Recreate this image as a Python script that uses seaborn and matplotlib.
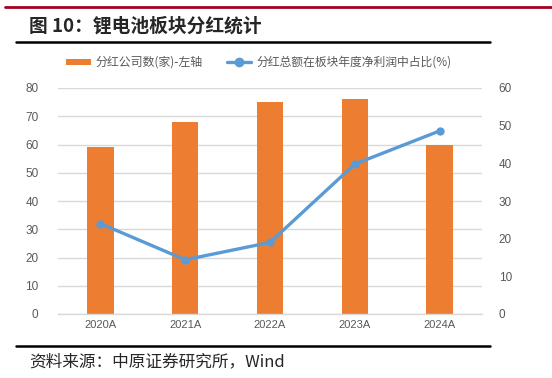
import matplotlib
matplotlib.use("Agg")
import matplotlib.pyplot as plt
import seaborn as sns
import pandas as pd
from matplotlib.lines import Line2D
from matplotlib.patches import Rectangle

years = ["2020A", "2021A", "2022A", "2023A", "2024A"]
company_counts = [59, 68, 75, 76, 60]
dividend_share = [24.0, 14.4, 19.0, 39.8, 48.6]
left_ticks = [0, 10, 20, 30, 40, 50, 60, 70, 80]
right_ticks = [0, 10, 20, 30, 40, 50, 60]
bar_label = "分红公司数(家)-左轴"
line_label = "分红总额在板块年度净利润中占比(%)"
title = "图 10：锂电池板块分红统计"
source = "资料来源：中原证券研究所，Wind"

sns.set_theme(style="white")
plt.rcParams["font.family"] = ["Noto Sans CJK SC", "DejaVu Sans"]

ORANGE = "#ED7D31"
BLUE = "#5B9BD5"
GRAY = "#595959"
GRID = "#D9D9D9"

W, H = 552, 378
fig = plt.figure(figsize=(W / 100, H / 100), dpi=100)
ax = fig.add_axes([58 / W, (H - 314) / H, (482 - 58) / W, (314 - 88) / H])

df = pd.DataFrame({"year": years, "count": company_counts, "share": dividend_share})
sns.barplot(data=df, x="year", y="count", color=ORANGE, width=0.31, ax=ax,
            saturation=1, edgecolor="none")
ax.set_ylim(0, 80)
ax.set_xlim(-0.5, 4.5)
ax.set_yticks(left_ticks)
ax.yaxis.grid(True, color=GRID, linewidth=1)
ax.set_axisbelow(True)
for s in ["top", "right", "left"]:
    ax.spines[s].set_visible(False)
ax.spines["bottom"].set_color(GRID)
ax.spines["bottom"].set_linewidth(1)
ax.set_xlabel("")
ax.set_ylabel("")
ax.tick_params(axis="y", length=0, labelsize=8.5, labelcolor=GRAY, pad=14)
ax.tick_params(axis="x", length=0, labelsize=8, labelcolor=GRAY, pad=4)
for lbl in ax.get_yticklabels() + ax.get_xticklabels():
    lbl.set_family(["Liberation Sans", "DejaVu Sans"])

ax2 = ax.twinx()
sns.lineplot(x=list(range(len(years))), y=dividend_share, ax=ax2, color=BLUE,
             linewidth=2.4, marker="o", markersize=6, markeredgewidth=0)
ax2.set_ylim(0, 60)
ax2.set_yticks(right_ticks)
ax2.grid(False)
for s in ["top", "right", "left", "bottom"]:
    ax2.spines[s].set_visible(False)
ax2.tick_params(axis="y", length=0, labelsize=8.5, labelcolor=GRAY, pad=12)
for lbl in ax2.get_yticklabels():
    lbl.set_family(["Liberation Sans", "DejaVu Sans"])
ax2.set_xlim(-0.5, 4.5)

# decorations in figure pixel coords
def fx(x):
    return x / W

def fy(y):
    return (H - y) / H

fig.add_artist(Line2D([fx(5), fx(552)], [fy(7), fy(7)], color="#A50021", linewidth=2))
fig.add_artist(Line2D([fx(16), fx(490)], [fy(42), fy(42)], color="black", linewidth=1.8))
fig.add_artist(Line2D([fx(16), fx(490)], [fy(346), fy(346)], color="black", linewidth=1.8))
fig.text(fx(29), fy(26), title, fontsize=13.5, fontweight="bold", va="center", ha="left")
fig.text(fx(29), fy(362), source, fontsize=12, va="center", ha="left")

# legend
fig.add_artist(Rectangle((fx(66), fy(64.5)), fx(91) - fx(66), 5 / H, color=ORANGE, lw=0))
fig.text(fx(95), fy(62), bar_label, fontsize=8.6, color=GRAY, va="center", ha="left")
fig.add_artist(Line2D([fx(227), fx(251)], [fy(62), fy(62)], color=BLUE, linewidth=2.4))
fig.add_artist(Line2D([fx(239)], [fy(62)], color=BLUE, marker="o", markersize=6, linewidth=0))
fig.text(fx(256), fy(62), line_label, fontsize=8.5, color=GRAY, va="center", ha="left")

fig.savefig("out.png", dpi=100)
